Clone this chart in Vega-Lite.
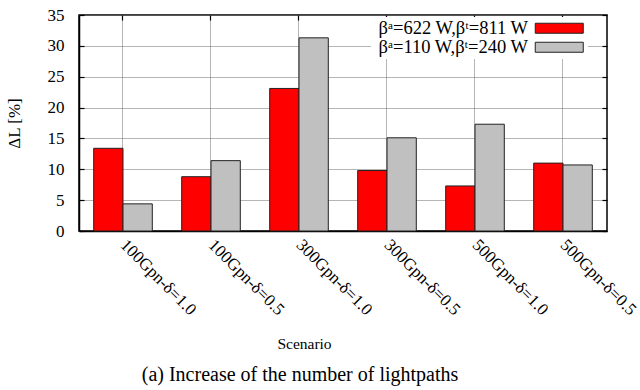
{
  "$schema": "https://vega.github.io/schema/vega-lite/v6.json",
  "width": 528,
  "height": 216,
  "autosize": "none",
  "padding": {"left": 79, "top": 15, "right": 33, "bottom": 159},
  "background": "white",
  "title": {
    "text": "(a) Increase of the number of lightpaths",
    "orient": "bottom",
    "anchor": "middle",
    "fontSize": 20,
    "fontWeight": "normal",
    "font": "Liberation Serif",
    "color": "black",
    "dx": -43,
    "offset": 13
  },
  "data": {
    "values": [
      {"scenario": "100Gpn-δ=1.0", "series": "βᵃ=622 W,βᵗ=811 W", "value": 13.4},
      {"scenario": "100Gpn-δ=1.0", "series": "βᵃ=110 W,βᵗ=240 W", "value": 4.4},
      {"scenario": "100Gpn-δ=0.5", "series": "βᵃ=622 W,βᵗ=811 W", "value": 8.8},
      {"scenario": "100Gpn-δ=0.5", "series": "βᵃ=110 W,βᵗ=240 W", "value": 11.4},
      {"scenario": "300Gpn-δ=1.0", "series": "βᵃ=622 W,βᵗ=811 W", "value": 23.1},
      {"scenario": "300Gpn-δ=1.0", "series": "βᵃ=110 W,βᵗ=240 W", "value": 31.3},
      {"scenario": "300Gpn-δ=0.5", "series": "βᵃ=622 W,βᵗ=811 W", "value": 9.8},
      {"scenario": "300Gpn-δ=0.5", "series": "βᵃ=110 W,βᵗ=240 W", "value": 15.1},
      {"scenario": "500Gpn-δ=1.0", "series": "βᵃ=622 W,βᵗ=811 W", "value": 7.3},
      {"scenario": "500Gpn-δ=1.0", "series": "βᵃ=110 W,βᵗ=240 W", "value": 17.3},
      {"scenario": "500Gpn-δ=0.5", "series": "βᵃ=622 W,βᵗ=811 W", "value": 11.0},
      {"scenario": "500Gpn-δ=0.5", "series": "βᵃ=110 W,βᵗ=240 W", "value": 10.7}
    ]
  },
  "encoding": {
    "x": {
      "field": "scenario",
      "type": "nominal",
      "sort": null,
      "scale": {"paddingInner": 0.334, "paddingOuter": 0.167}
    },
    "xOffset": {
      "field": "series",
      "type": "nominal",
      "sort": null,
      "scale": {"paddingInner": 0, "paddingOuter": 0}
    },
    "y": {
      "field": "value",
      "type": "quantitative",
      "scale": {"domain": [0, 35], "nice": false}
    }
  },
  "layer": [
    {
      "mark": {"type": "bar", "stroke": "#222222", "strokeWidth": 1},
      "encoding": {
        "x": {
          "field": "scenario",
          "type": "nominal",
          "sort": null,
          "axis": {
            "title": "Scenario",
            "titleFontSize": 15.5,
            "titleFontWeight": "normal",
            "titleX": 225,
            "titleY": 117,
            "titleBaseline": "alphabetic",
            "labelAngle": 45,
            "labelAlign": "left",
            "labelBaseline": "middle",
            "labelFontSize": 17,
            "labelPadding": 16,
            "tickSize": -5,
            "grid": true
          }
        },
        "y": {
          "field": "value",
          "type": "quantitative",
          "axis": {
            "title": "ΔL [%]",
            "titleFontSize": 17,
            "titleFontWeight": "normal",
            "titlePadding": 24,
            "values": [0, 5, 10, 15, 20, 25, 30, 35],
            "labelFontSize": 17,
            "labelPadding": 20,
            "tickSize": -5,
            "grid": true
          }
        },
        "color": {
          "field": "series",
          "type": "nominal",
          "sort": null,
          "scale": {"range": ["#ff0000", "#c0c0c0"]},
          "legend": {
            "title": null,
            "orient": "none",
            "legendX": 292,
            "legendY": 2,
            "direction": "vertical",
            "fillColor": "white",
            "padding": 2,
            "labelFontSize": 18.5,
            "labelLimit": 300,
            "labelOffset": -13,
            "symbolType": "M20.4,-0.667H26.8V0.667H20.4Z",
            "symbolSize": 225,
            "symbolStrokeColor": "#222222",
            "symbolStrokeWidth": 1,
            "symbolOpacity": 1,
            "rowPadding": -1
          }
        }
      }
    },
    {
      "mark": {"type": "bar", "opacity": 0},
      "encoding": {
        "x": {
          "field": "scenario",
          "type": "nominal",
          "sort": null,
          "axis": {
            "title": null,
            "labels": false,
            "domain": false,
            "grid": false,
            "tickSize": -5
          }
        },
        "y": {
          "field": "value",
          "type": "quantitative",
          "axis": {
            "title": null,
            "labels": false,
            "domain": false,
            "grid": false,
            "values": [0, 5, 10, 15, 20, 25, 30, 35],
            "tickSize": -5
          }
        }
      }
    }
  ],
  "resolve": {"axis": {"x": "independent", "y": "independent"}},
  "config": {
    "font": "Liberation Serif",
    "view": {"stroke": "black", "strokeWidth": 1.5},
    "axis": {
      "labelColor": "black",
      "titleColor": "black",
      "labelFont": "Liberation Serif",
      "titleFont": "Liberation Serif",
      "domainColor": "black",
      "domainWidth": 1.5,
      "tickColor": "black",
      "tickWidth": 1.2,
      "gridColor": "#6a6a6a",
      "gridDash": [1, 1],
      "gridWidth": 1
    },
    "legend": {
      "labelColor": "black",
      "labelFont": "Liberation Serif"
    }
  }
}
